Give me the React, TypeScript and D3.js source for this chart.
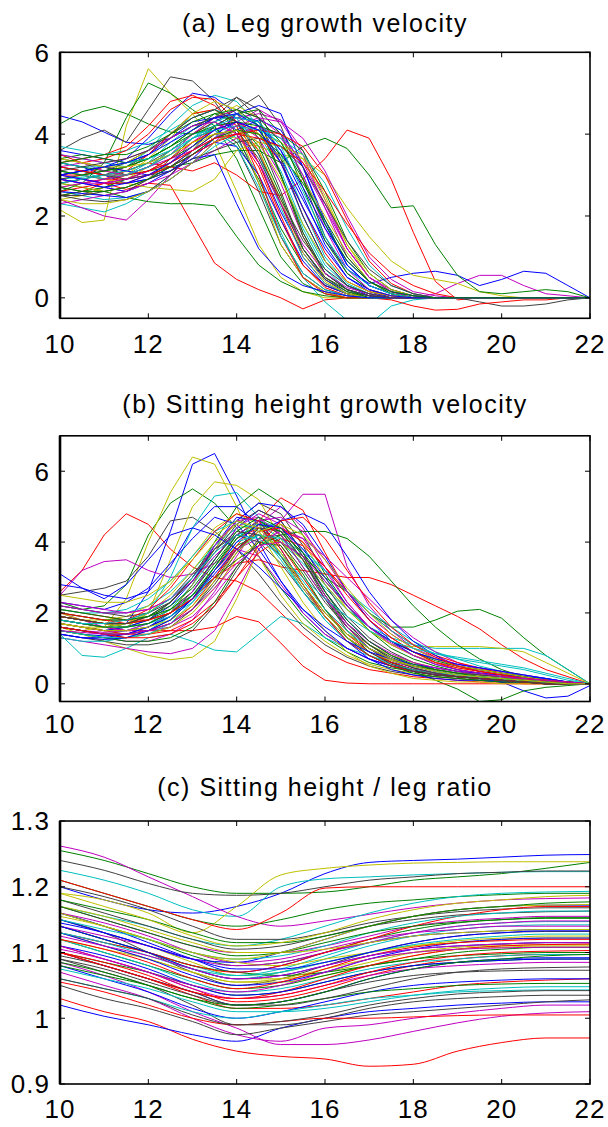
import React, { useEffect, useRef } from "react";
import * as d3 from "d3";

// Ages (years) at which each subject's curve is sampled
const agesHalf = [10, 10.5, 11, 11.5, 12, 12.5, 13, 13.5, 14, 14.5, 15, 15.5, 16, 16.5, 17, 17.5, 18, 18.5, 19, 19.5, 20, 20.5, 21, 21.5, 22];
const agesYear = [10, 11, 12, 13, 14, 15, 16, 17, 18, 19, 20, 21, 22];

const xTicks = [10, 12, 14, 16, 18, 20, 22];
const legTicks = [0, 2, 4, 6];
const sitTicks = [0, 2, 4, 6];
const ratioTicks = [0.9, 1, 1.1, 1.2, 1.3];

// MATLAB default line colour order (b, g, r, c, m, y, k)
const lineColors = ["#0000ff", "#008000", "#ff0000", "#00bfbf", "#bf00bf", "#bfbf00", "#404040"];

// (a) Leg growth velocity, one row per subject
const legVelocity = [
  [4.45, 4.3, 4.05, 3.8, 3.75, 3.9, 4.2, 4.4, 4.1, 3.3, 2.1, 1.1, 0.45, 0.15, 0.05, 0, 0, 0, 0, 0, 0, 0, 0, 0, 0],
  [4.25, 4.55, 4.68, 4.5, 4.25, 4.05, 4.0, 4.15, 3.8, 2.9, 1.7, 0.8, 0.3, 0.1, 0, 0, 0, 0, 0, 0, 0, 0, 0, 0, 0],
  [2.8, 2.9, 2.8, 2.65, 2.8, 2.75, 1.8, 0.85, 0.45, 0.2, 0.0, -0.27, -0.05, 0, 0, 0, 0, 0, 0, 0, 0, 0, 0, 0, 0],
  [3.2, 3.1, 2.9, 3.0, 3.3, 3.8, 4.2, 4.3, 3.9, 3.0, 1.6, 0.5, -0.1, -0.55, -0.65, -0.2, -0.05, 0, 0, 0, 0, 0, 0, 0, 0],
  [2.6, 2.5, 2.7, 2.6, 2.9, 3.3, 3.8, 4.2, 4.3, 3.9, 3.0, 1.6, 0.6, 0.2, 0.05, 0, 0, 0.1, 0.35, 0.55, 0.55, 0.3, 0.1, 0.05, 0],
  [2.15, 1.84, 1.9, 4.2, 5.6, 5.0, 4.5, 3.8, 2.6, 1.3, 0.5, 0.15, 0, 0, 0, 0, 0, 0, 0, 0, 0, 0, 0, 0, 0],
  [3.6, 3.9, 4.1, 3.8, 4.6, 5.4, 5.3, 4.8, 4.0, 2.8, 1.5, 0.6, 0.2, 0.05, 0, 0, 0, 0, 0, 0, 0, 0, 0, 0, 0],
  [3.3, 3.2, 3.0, 2.8, 2.9, 3.2, 3.6, 4.0, 4.3, 4.1, 3.4, 2.4, 1.4, 0.7, 0.35, 0.5, 0.6, 0.65, 0.55, 0.3, 0.45, 0.65, 0.6, 0.3, 0],
  [2.6, 2.8, 3.3, 4.4, 5.25, 5.0, 4.6, 4.2, 3.4, 2.2, 1.0, 0.35, 0.1, 0, 0, 0, 0, 0, 0, 0, 0, 0, 0, 0, 0],
  [3.1, 3.0, 3.2, 3.1, 3.3, 3.2, 3.1, 3.3, 3.0, 2.6, 2.5, 2.9, 3.4, 4.1, 3.9, 2.9, 1.6, 0.4, -0.05, 0, 0, 0, 0, 0, 0],
  [3.5, 3.4, 3.3, 3.2, 3.6, 4.2, 4.7, 4.95, 4.8, 4.2, 3.0, 1.7, 0.7, 0.2, 0.05, 0, 0, 0, 0, 0, 0, 0, 0, 0, 0],
  [2.8, 2.9, 2.8, 2.9, 3.0, 3.3, 3.7, 4.1, 4.4, 4.5, 4.35, 3.6, 2.4, 1.2, 0.5, 0.15, 0, 0, 0, 0, 0, 0, 0, 0, 0],
  [2.9, 3.0, 3.1, 3.0, 3.2, 3.5, 3.8, 4.0, 3.9, 3.7, 3.5, 3.4, 3.0, 2.2, 1.5, 0.9, 0.55, 0.45, 0.35, 0.15, 0.05, 0, 0, 0, 0],
  [2.7, 2.6, 2.5, 2.6, 2.9, 3.4, 3.9, 4.1, 3.7, 2.6, 1.3, 0.5, 0.15, 0, 0, 0, 0, 0, 0, -0.1, -0.2, -0.2, -0.15, -0.05, 0],
  [3.4, 3.3, 3.2, 3.4, 3.9, 4.5, 5.0, 4.9, 4.5, 4.3, 3.3, 2.0, 0.9, 0.3, 0.05, 0, 0, 0, 0, 0, 0, 0, 0, 0, 0],
  [3.0, 3.1, 3.2, 3.0, 3.1, 3.2, 3.3, 3.5, 3.6, 3.6, 3.3, 3.7, 3.9, 3.65, 3.0, 2.2, 2.25, 1.3, 0.55, 0.15, 0.1, 0.15, 0.2, 0.15, 0],
  [2.5, 2.6, 2.8, 3.0, 3.2, 3.6, 4.0, 4.3, 4.0, 3.2, 1.9, 0.8, 0.3, 0.1, 0, -0.05, -0.2, -0.3, -0.28, -0.15, -0.1, -0.05, -0.05, 0, 0],
  [2.3, 2.2, 2.1, 2.3, 2.6, 3.0, 3.5, 3.9, 4.2, 4.0, 3.1, 1.8, 0.8, 0.3, 0.1, 0, 0, 0, 0, 0, 0, 0, 0, 0, 0],
  [2.4, 2.2, 2.0, 1.9, 2.4, 3.0, 3.5, 3.9, 4.1, 3.8, 2.8, 1.5, 0.6, 0.2, 0.05, 0, 0, 0, 0, 0, 0, 0, 0, 0, 0],
  [2.7, 2.8, 2.9, 3.0, 3.4, 3.9, 4.5, 4.6, 4.2, 2.8, 1.3, 0.5, 0.15, 0, 0, 0, 0, 0, 0, 0, 0, 0, 0, 0, 0],
  [3.0, 3.1, 3.0, 3.2, 3.5, 4.0, 4.4, 4.6, 4.9, 4.6, 3.4, 2.0, 0.9, 0.3, 0.1, 0, 0, 0, 0, 0, 0, 0, 0, 0, 0],
  [2.9, 2.8, 2.7, 2.6, 2.8, 3.1, 3.5, 3.8, 3.7, 3.0, 1.9, 0.9, 0.3, 0.1, 0, 0, 0, 0, 0, 0, 0, 0, 0, 0, 0],
  [2.8, 2.7, 2.6, 2.45, 2.35, 2.3, 2.3, 2.25, 1.5, 0.8, 0.4, 0.15, 0.05, 0, 0, 0, 0, 0, 0, 0, 0, 0, 0, 0, 0],
  [3.3, 3.4, 3.5, 3.7, 4.2, 4.8, 4.95, 4.7, 4.2, 3.0, 1.5, 0.5, 0.1, 0, 0, 0, 0, 0, 0, 0, 0, 0, 0, 0, 0],
  [2.6, 2.5, 2.4, 2.45, 2.6, 2.9, 3.3, 3.7, 4.0, 4.1, 3.8, 3.0, 1.8, 0.8, 0.3, 0.1, 0, 0, 0, 0, 0, 0, 0, 0, 0],
  [3.0, 2.9, 2.8, 2.9, 3.0, 3.2, 3.5, 3.8, 4.3, 4.6, 4.3, 3.5, 2.2, 1.0, 0.4, 0.1, 0, 0, 0, 0, 0, 0, 0, 0, 0],
  [2.4, 2.5, 2.7, 2.9, 3.2, 3.6, 4.0, 4.4, 4.7, 4.4, 3.0, 1.5, 0.5, 0.15, 0, 0, 0, 0, 0, 0, 0, 0, 0, 0, 0],
  [3.2, 3.1, 3.0, 3.1, 3.3, 3.6, 4.0, 4.3, 4.6, 4.95, 4.2, 2.9, 1.5, 0.6, 0.2, 0, 0, 0, 0, 0, 0, 0, 0, 0, 0],
  [3.6, 3.5, 3.4, 3.3, 3.5, 3.9, 4.3, 4.4, 4.4, 4.3, 3.6, 2.5, 1.3, 0.5, 0.15, 0, 0, 0, 0, 0, 0, 0, 0, 0, 0],
  [2.5, 2.6, 2.7, 2.9, 3.1, 3.4, 3.7, 4.2, 4.5, 4.6, 4.0, 2.7, 1.4, 0.6, 0.2, 0.05, 0, 0, 0, 0, 0, 0, 0, 0, 0],
  [2.9, 2.8, 2.9, 3.1, 3.5, 4.0, 4.5, 4.6, 4.3, 3.6, 2.3, 1.0, 0.35, 0.1, 0, 0, 0, 0, 0, 0, 0, 0, 0, 0, 0],
  [3.7, 3.6, 3.5, 3.6, 3.8, 4.1, 4.4, 4.6, 4.4, 3.5, 2.2, 1.0, 0.35, 0.1, 0, 0, 0, 0, 0, 0, 0, 0, 0, 0, 0],
  [2.3, 2.4, 2.5, 2.6, 2.8, 3.0, 3.3, 3.6, 3.9, 4.2, 4.0, 3.0, 1.7, 0.7, 0.2, 0.05, 0, 0, 0, 0, 0, 0, 0, 0, 0],
  [3.1, 3.0, 2.9, 2.8, 2.7, 2.65, 2.6, 2.9, 3.6, 3.8, 3.7, 3.5, 2.5, 1.3, 0.5, 0.15, 0, 0, 0, 0, 0, 0, 0, 0, 0],
  [2.5, 2.4, 2.35, 2.4, 2.6, 3.0, 3.6, 4.2, 4.5, 3.9, 2.6, 1.2, 0.45, 0.1, 0, 0, 0, 0, 0, 0, 0, 0, 0, 0, 0],
  [3.0, 3.1, 3.2, 3.1, 3.0, 3.1, 3.4, 3.9, 4.5, 4.7, 4.5, 3.2, 1.8, 0.8, 0.3, 0.1, 0, 0, 0, 0, 0, 0, 0, 0, 0],
  [3.3, 3.2, 3.1, 3.2, 3.4, 3.7, 4.1, 4.5, 4.3, 3.7, 2.5, 1.2, 0.5, 0.15, 0, 0, 0, 0, 0, 0, 0, 0, 0, 0, 0],
  [3.5, 3.3, 3.4, 3.6, 4.0, 4.6, 4.9, 4.85, 4.3, 3.3, 2.0, 0.8, 0.25, 0.05, 0, 0, 0, 0, 0, 0, 0, 0, 0, 0, 0],
  [2.9, 2.95, 3.0, 3.1, 3.3, 3.5, 3.9, 4.3, 4.5, 4.3, 3.5, 2.2, 1.0, 0.35, 0.1, 0, 0, 0, 0, 0, 0, 0, 0, 0, 0],
  [3.2, 3.3, 3.1, 3.0, 3.2, 3.4, 3.6, 3.9, 4.0, 4.2, 3.9, 3.2, 2.2, 1.2, 0.5, 0.15, 0, 0, 0, 0, 0, 0, 0, 0, 0],
  [2.8, 2.7, 2.6, 2.7, 2.9, 3.3, 3.7, 4.0, 4.1, 3.6, 2.4, 1.1, 0.4, 0.1, 0, 0, 0, 0, 0, 0, 0, 0, 0, 0, 0],
  [2.9, 3.0, 3.1, 3.3, 3.6, 3.9, 4.2, 4.4, 4.9, 4.4, 3.0, 1.5, 0.6, 0.2, 0.05, 0, 0, 0, 0, 0, 0, 0, 0, 0, 0],
  [2.6, 2.55, 2.5, 2.45, 2.6, 2.9, 3.3, 3.8, 4.1, 4.35, 4.1, 3.2, 1.9, 0.8, 0.3, 0.1, 0, 0, 0, 0, 0, 0, 0, 0, 0],
  [3.4, 3.5, 3.4, 3.3, 3.4, 3.7, 4.1, 4.4, 4.6, 4.2, 3.0, 1.6, 0.6, 0.2, 0, 0, 0, 0, 0, 0, 0, 0, 0, 0, 0],
  [3.0, 3.0, 2.9, 2.9, 3.1, 3.4, 3.8, 4.1, 4.3, 4.0, 3.3, 2.2, 1.1, 0.4, 0.15, 0.05, 0, 0, 0, 0, 0, 0, 0, 0, 0],
  [3.1, 3.0, 2.9, 3.0, 3.2, 3.6, 4.0, 4.1, 3.7, 2.7, 1.5, 0.6, 0.2, 0.05, 0, 0, 0, 0, 0, 0, 0, 0, 0, 0, 0],
  [2.7, 2.8, 2.9, 3.0, 3.2, 3.5, 4.0, 4.4, 4.6, 4.4, 4.0, 3.3, 2.3, 1.2, 0.5, 0.2, 0.05, 0, 0, 0, 0, 0, 0, 0, 0],
  [3.4, 3.3, 3.2, 3.3, 3.6, 4.0, 4.5, 4.8, 4.6, 4.0, 3.4, 2.9, 2.0, 1.1, 0.4, 0.1, 0, 0, 0, 0, 0, 0, 0, 0, 0],
  [2.8, 2.9, 3.0, 2.9, 3.0, 3.2, 3.6, 4.0, 4.1, 3.4, 2.3, 1.2, 0.5, 0.2, 0.05, 0, 0, 0, 0, 0, 0, 0, 0, 0, 0],
  [3.0, 2.9, 2.8, 2.8, 2.9, 3.1, 3.4, 3.5, 2.3, 1.2, 0.6, 0.3, 0.15, 0.05, 0, 0, 0, 0, 0, 0, 0, 0, 0, 0, 0],
  [3.1, 3.0, 3.1, 3.2, 3.4, 3.7, 4.0, 4.2, 4.3, 4.2, 4.0, 3.6, 2.6, 1.4, 0.6, 0.2, 0.05, 0, 0, 0, 0, 0, 0, 0, 0],
  [2.6, 2.7, 2.8, 2.8, 3.0, 3.2, 3.5, 3.8, 4.0, 4.1, 4.0, 3.7, 3.0, 1.9, 0.9, 0.35, 0.1, 0, 0, 0, 0, 0, 0, 0, 0],
  [3.3, 3.2, 3.2, 3.3, 3.4, 3.6, 3.9, 4.1, 4.2, 4.1, 3.9, 3.5, 2.8, 1.7, 0.8, 0.3, 0.1, 0, 0, 0, 0, 0, 0, 0, 0],
  [2.9, 2.8, 2.8, 2.9, 3.1, 3.3, 3.6, 3.9, 4.2, 4.4, 4.3, 3.9, 3.1, 2.0, 1.0, 0.45, 0.15, 0.05, 0, 0, 0, 0, 0, 0, 0],
  [3.4, 3.3, 3.2, 3.2, 3.3, 3.5, 3.8, 4.0, 4.1, 4.0, 3.8, 3.4, 2.4, 1.3, 0.6, 0.2, 0.05, 0, 0, 0, 0, 0, 0, 0, 0],
  [2.5, 2.5, 2.6, 2.7, 2.9, 3.1, 3.4, 3.6, 3.8, 3.9, 3.7, 3.2, 2.3, 1.4, 0.7, 0.3, 0.1, 0, 0, 0, 0, 0, 0, 0, 0],
  [3.0, 3.1, 3.2, 3.3, 3.5, 3.8, 4.1, 4.4, 4.5, 4.2, 3.6, 2.7, 1.7, 0.9, 0.4, 0.15, 0.05, 0, 0, 0, 0, 0, 0, 0, 0],
  [2.7, 2.6, 2.6, 2.7, 2.9, 3.2, 3.5, 3.9, 4.1, 4.0, 3.5, 2.8, 1.9, 1.0, 0.4, 0.1, 0, 0, 0, 0, 0, 0, 0, 0, 0],
  [3.2, 3.1, 3.0, 3.0, 3.1, 3.3, 3.6, 3.9, 4.0, 3.9, 3.7, 3.3, 2.6, 1.8, 1.1, 0.6, 0.3, 0.1, 0, 0, 0, 0, 0, 0, 0],
  [2.8, 2.9, 3.0, 3.0, 3.2, 3.5, 3.9, 4.2, 4.4, 4.3, 3.7, 2.6, 1.5, 0.7, 0.3, 0.1, 0, 0, 0, 0, 0, 0, 0, 0, 0],
  [3.5, 3.4, 3.3, 3.4, 3.6, 3.9, 4.2, 4.3, 4.0, 3.3, 2.3, 1.3, 0.6, 0.25, 0.1, 0, 0, 0, 0, 0, 0, 0, 0, 0, 0],
  [2.4, 2.3, 2.3, 2.4, 2.6, 2.9, 3.3, 3.8, 4.1, 3.8, 2.9, 1.8, 0.9, 0.4, 0.15, 0.05, 0, 0, 0, 0, 0, 0, 0, 0, 0],
  [3.1, 3.2, 3.3, 3.4, 3.6, 4.0, 4.4, 4.6, 4.3, 3.5, 2.4, 1.4, 0.7, 0.3, 0.1, 0, 0, 0, 0, 0, 0, 0, 0, 0, 0],
  [2.9, 2.8, 2.7, 2.8, 3.0, 3.3, 3.7, 4.1, 4.3, 4.1, 3.3, 2.2, 1.2, 0.5, 0.2, 0.05, 0, 0, 0, 0, 0, 0, 0, 0, 0],
  [3.3, 3.4, 3.5, 3.5, 3.7, 4.0, 4.3, 4.5, 4.6, 4.4, 3.8, 2.9, 1.8, 0.9, 0.4, 0.15, 0.05, 0, 0, 0, 0, 0, 0, 0, 0],
];

// (b) Sitting height growth velocity
const sittingVelocity = [
  [1.8, 1.7, 1.6, 1.7, 2.6, 4.3, 6.2, 6.5, 5.3, 4.0, 2.9, 2.0, 1.4, 1.0, 0.7, 0.5, 0.35, 0.25, 0.2, 0.15, 0.1, 0.05, 0.05, 0, 0],
  [2.3, 2.1, 2.2, 2.8, 4.2, 5.1, 5.5, 5.1, 4.4, 3.6, 2.7, 1.9, 1.3, 0.9, 0.6, 0.45, 0.35, 0.25, 0.2, 0.15, 0.1, 0.05, 0.05, 0, 0],
  [2.6, 3.2, 4.2, 4.8, 4.5, 3.8, 3.3, 3.0, 2.9, 2.6, 2.0, 1.4, 0.9, 0.6, 0.4, 0.3, 0.2, 0.15, 0.1, 0.05, 0.05, 0, 0, 0, 0],
  [1.4, 0.8, 0.75, 1.0, 1.3, 1.4, 1.2, 0.95, 0.9, 1.4, 1.9, 1.7, 1.3, 1.0, 0.8, 0.6, 0.5, 0.4, 0.3, 0.3, 0.25, 0.2, 0.1, 0.05, 0],
  [2.0, 1.8, 1.6, 1.5, 1.6, 1.9, 2.5, 3.2, 3.8, 4.1, 4.6, 5.35, 5.35, 3.3, 2.2, 1.5, 1.0, 0.7, 0.5, 0.4, 0.3, 0.2, 0.1, 0.05, 0],
  [1.6, 1.5, 1.6, 2.4, 4.0, 5.4, 6.4, 6.2, 5.0, 3.6, 2.5, 1.7, 1.2, 0.8, 0.55, 0.4, 0.3, 0.2, 0.15, 0.1, 0.05, 0.05, 0, 0, 0],
  [2.5, 2.6, 2.7, 2.9, 3.6, 4.6, 4.7, 4.3, 3.8, 3.1, 2.3, 1.6, 1.1, 0.75, 0.5, 0.35, 0.25, 0.2, 0.15, 0.1, 0.05, 0.05, 0, 0, 0],
  [1.9, 1.8, 1.7, 1.6, 1.7, 2.0, 2.6, 3.5, 4.4, 4.9, 4.6, 3.7, 2.6, 1.8, 1.2, 0.8, 0.5, 0.35, 0.25, 0.15, 0.05, -0.2, -0.4, -0.35, -0.05],
  [1.7, 1.6, 1.5, 1.5, 1.6, 1.9, 2.4, 3.2, 3.9, 4.2, 4.0, 3.6, 3.0, 2.6, 2.0, 1.6, 1.6, 1.8, 2.05, 2.1, 1.85, 1.3, 0.8, 0.4, 0],
  [1.9, 1.8, 1.7, 1.7, 1.8, 2.0, 2.4, 3.0, 3.4, 3.5, 3.3, 3.2, 3.1, 3.0, 3.0, 2.8, 2.5, 2.2, 1.9, 1.55, 1.1, 0.7, 0.4, 0.2, 0],
  [1.6, 1.5, 1.4, 1.5, 1.7, 2.1, 2.8, 3.6, 4.2, 4.4, 4.0, 3.4, 2.7, 2.1, 1.6, 1.3, 1.1, 1.0, 1.0, 1.0, 1.0, 1.0, 0.8, 0.4, 0],
  [2.5, 3.2, 3.45, 3.5, 3.2, 3.0, 3.1, 3.4, 3.8, 3.6, 2.8, 2.0, 1.4, 1.0, 0.7, 0.5, 0.4, 0.3, 0.2, 0.15, 0.1, 0.05, 0, 0, 0],
  [1.6, 1.4, 1.2, 1.0, 0.8, 0.68, 0.75, 1.2, 2.4, 3.8, 4.5, 4.0, 3.0, 2.1, 1.5, 1.1, 1.05, 1.05, 1.05, 1.05, 1.0, 0.9, 0.6, 0.3, 0],
  [1.9, 1.8, 1.7, 1.6, 1.8, 2.3, 3.0, 3.9, 4.6, 5.1, 4.8, 3.9, 2.8, 1.9, 1.3, 0.9, 0.6, 0.4, 0.3, 0.2, 0.15, 0.1, 0.05, 0, 0],
  [2.8, 2.7, 2.5, 2.4, 2.6, 3.3, 4.4, 5.0, 5.0, 4.5, 3.6, 2.7, 1.9, 1.3, 0.9, 0.6, 0.4, 0.3, 0.2, 0.15, 0.1, 0.05, 0, 0, 0],
  [1.6, 1.5, 1.4, 1.4, 1.5, 1.8, 2.4, 3.3, 4.2, 4.6, 4.2, 3.3, 2.4, 1.6, 1.0, 0.6, 0.35, 0.1, -0.15, -0.5, -0.45, -0.2, -0.1, -0.05, 0],
  [1.8, 1.7, 1.6, 1.5, 1.5, 1.5, 1.5, 1.6, 1.9, 1.75, 1.15, 0.5, 0.1, 0.02, 0, 0, 0, 0, 0, 0, 0, 0, 0, 0, 0],
  [1.7, 1.6, 1.5, 1.6, 2.0, 3.0, 4.4, 5.3, 5.4, 4.7, 3.6, 2.6, 1.8, 1.2, 0.8, 0.5, 0.35, 0.25, 0.2, 0.15, 0.1, 0.05, 0, 0, 0],
  [1.5, 1.4, 1.3, 1.2, 1.2, 1.4, 1.8, 2.6, 3.6, 4.5, 5.0, 4.4, 3.3, 2.3, 1.6, 1.1, 0.8, 0.6, 0.5, 0.4, 0.3, 0.2, 0.1, 0.05, 0],
  [1.7, 1.6, 1.5, 1.6, 2.0, 3.5, 5.0, 5.7, 5.6, 5.2, 4.1, 3.0, 2.1, 1.5, 1.1, 0.8, 0.6, 0.45, 0.35, 0.25, 0.2, 0.1, 0.05, 0, 0],
  [2.0, 1.9, 1.8, 1.8, 2.0, 2.4, 3.1, 3.8, 4.2, 4.0, 3.4, 2.6, 1.9, 1.3, 0.9, 0.6, 0.4, 0.3, 0.2, 0.15, 0.1, 0.05, 0, 0, 0],
  [1.5, 1.4, 1.35, 1.4, 1.6, 2.0, 2.8, 3.9, 4.7, 4.6, 3.8, 2.8, 1.9, 1.2, 0.7, 0.4, 0.25, 0.15, 0.1, 0.1, 0.05, 0.05, 0, 0, 0],
  [1.8, 1.7, 1.6, 1.7, 1.9, 2.3, 3.0, 4.0, 5.0, 5.5, 5.1, 4.2, 3.1, 2.2, 1.5, 1.0, 0.7, 0.5, 0.35, 0.25, 0.2, 0.1, 0.05, 0, 0],
  [1.6, 1.5, 1.4, 1.4, 1.5, 1.7, 2.2, 3.0, 3.9, 4.6, 5.25, 4.9, 3.7, 2.6, 1.8, 1.3, 0.9, 0.6, 0.4, 0.3, 0.2, 0.15, 0.1, 0.05, 0],
  [2.2, 2.1, 2.0, 2.0, 2.2, 2.6, 3.2, 3.9, 4.4, 4.5, 4.1, 3.5, 2.8, 2.1, 1.6, 1.2, 0.9, 0.7, 0.55, 0.45, 0.35, 0.25, 0.15, 0.05, 0],
  [1.3, 1.2, 1.1, 1.0, 0.9, 0.85, 1.0, 1.5, 2.6, 3.8, 4.4, 4.1, 3.2, 2.3, 1.6, 1.2, 0.9, 0.7, 0.5, 0.4, 0.3, 0.2, 0.1, 0.05, 0],
  [1.9, 1.8, 1.8, 1.9, 2.2, 2.8, 3.6, 4.4, 4.8, 4.5, 3.7, 2.8, 2.0, 1.4, 1.0, 0.7, 0.5, 0.35, 0.25, 0.2, 0.1, 0.05, 0, 0, 0],
  [1.4, 1.3, 1.2, 1.1, 1.1, 1.2, 1.5, 2.2, 3.2, 4.1, 4.2, 3.5, 2.5, 1.6, 1.0, 0.6, 0.4, 0.25, 0.2, 0.15, 0.1, 0.05, 0, 0, 0],
  [1.7, 1.6, 1.5, 1.6, 1.8, 2.2, 2.9, 3.8, 4.6, 5.1, 5.0, 4.5, 3.6, 2.6, 1.8, 1.2, 0.8, 0.55, 0.4, 0.3, 0.2, 0.1, 0.05, 0, 0],
  [2.0, 1.9, 1.8, 1.8, 1.9, 2.1, 2.5, 3.0, 3.5, 3.9, 4.2, 4.3, 4.3, 4.1, 3.6, 2.9, 2.2, 1.6, 1.1, 0.7, 0.4, 0.2, 0.1, 0.05, 0],
  [2.1, 2.0, 1.9, 1.8, 1.8, 2.0, 2.4, 3.2, 4.1, 4.4, 3.9, 3.0, 2.1, 1.4, 0.9, 0.6, 0.4, 0.3, 0.2, 0.15, 0.1, 0.05, 0, 0, 0],
  [1.3, 1.2, 1.2, 1.3, 1.5, 1.9, 2.5, 3.3, 4.1, 4.6, 4.4, 3.8, 3.2, 2.6, 2.1, 1.6, 1.2, 0.9, 0.7, 0.5, 0.35, 0.2, 0.1, 0.05, 0],
  [1.8, 1.7, 1.6, 1.5, 1.5, 1.6, 1.9, 2.5, 3.3, 4.0, 4.3, 4.1, 3.6, 3.0, 2.4, 1.8, 1.3, 0.9, 0.6, 0.4, 0.3, 0.2, 0.1, 0.05, 0],
  [2.0, 1.8, 1.7, 1.6, 1.7, 2.0, 2.8, 3.8, 4.6, 4.3, 3.3, 2.3, 1.5, 0.9, 0.5, 0.3, 0.15, 0.1, 0.05, 0.05, 0, 0, 0, 0, 0],
  [1.6, 1.5, 1.4, 1.3, 1.4, 1.6, 2.1, 2.9, 3.8, 4.4, 4.0, 3.2, 2.3, 1.6, 1.1, 0.75, 0.5, 0.35, 0.25, 0.2, 0.15, 0.1, 0.05, 0, 0],
  [2.3, 2.2, 2.1, 2.3, 2.7, 3.4, 4.1, 4.7, 4.5, 3.8, 2.9, 2.1, 1.5, 1.0, 0.7, 0.5, 0.35, 0.25, 0.2, 0.15, 0.1, 0.05, 0, 0, 0],
  [1.9, 1.8, 1.7, 1.7, 1.8, 2.1, 2.6, 3.4, 4.2, 4.6, 4.3, 3.5, 2.5, 1.7, 1.1, 0.7, 0.45, 0.3, 0.2, 0.15, 0.1, 0.05, 0, 0, 0],
  [1.7, 1.6, 1.5, 1.4, 1.4, 1.5, 1.8, 2.3, 3.0, 3.7, 4.1, 3.9, 3.3, 2.6, 2.0, 1.5, 1.1, 0.8, 0.6, 0.45, 0.3, 0.2, 0.1, 0.05, 0],
  [2.1, 2.0, 2.0, 2.1, 2.4, 2.9, 3.6, 4.3, 4.6, 4.3, 3.5, 2.6, 1.8, 1.2, 0.8, 0.55, 0.4, 0.3, 0.25, 0.2, 0.15, 0.1, 0.05, 0, 0],
  [1.6, 1.5, 1.45, 1.5, 1.7, 2.0, 2.6, 3.5, 4.4, 4.8, 4.5, 3.6, 2.5, 1.6, 1.0, 0.65, 0.45, 0.3, 0.2, 0.15, 0.1, 0.05, 0, 0, 0],
  [1.5, 1.4, 1.3, 1.3, 1.4, 1.6, 2.0, 2.7, 3.5, 4.0, 4.0, 3.5, 2.8, 2.1, 1.5, 1.1, 0.8, 0.6, 0.45, 0.35, 0.25, 0.15, 0.1, 0.05, 0],
  [2.2, 2.1, 2.0, 1.9, 2.0, 2.3, 2.9, 3.7, 4.5, 4.9, 4.6, 3.7, 2.6, 1.7, 1.1, 0.7, 0.45, 0.3, 0.2, 0.15, 0.1, 0.05, 0, 0, 0],
  [1.4, 1.3, 1.3, 1.4, 1.6, 1.9, 2.4, 3.1, 3.8, 4.3, 4.6, 4.8, 4.5, 3.6, 2.6, 1.8, 1.2, 0.8, 0.5, 0.35, 0.25, 0.15, 0.1, 0.05, 0],
  [1.5, 1.4, 1.3, 1.2, 1.2, 1.3, 1.6, 2.3, 3.3, 4.0, 3.9, 3.1, 2.1, 1.3, 0.8, 0.5, 0.3, 0.2, 0.15, 0.1, 0.05, 0.05, 0, 0, 0],
  [1.9, 1.8, 1.7, 1.8, 2.1, 2.7, 3.5, 4.3, 4.8, 4.6, 3.8, 2.8, 1.9, 1.2, 0.8, 0.5, 0.35, 0.25, 0.2, 0.15, 0.1, 0.05, 0, 0, 0],
  [1.8, 1.7, 1.6, 1.6, 1.7, 1.9, 2.3, 3.0, 3.8, 4.2, 4.1, 3.7, 3.2, 2.6, 2.0, 1.5, 1.1, 0.85, 0.7, 0.6, 0.5, 0.4, 0.25, 0.1, 0],
  [2.2, 2.1, 2.0, 2.0, 2.1, 2.4, 2.9, 3.6, 4.2, 4.6, 4.7, 4.3, 3.5, 2.6, 1.9, 1.4, 1.0, 0.75, 0.55, 0.45, 0.35, 0.25, 0.15, 0.05, 0],
  [1.7, 1.6, 1.6, 1.7, 2.0, 2.5, 3.2, 4.0, 4.5, 4.3, 3.6, 2.7, 1.9, 1.3, 0.9, 0.65, 0.5, 0.4, 0.3, 0.25, 0.2, 0.15, 0.1, 0.05, 0],
  [1.6, 1.5, 1.4, 1.4, 1.5, 1.7, 2.1, 2.8, 3.7, 4.4, 4.3, 3.5, 2.4, 1.5, 0.9, 0.55, 0.35, 0.25, 0.2, 0.15, 0.1, 0.05, 0, 0, 0],
  [3.1, 2.7, 2.4, 2.8, 3.5, 4.2, 4.4, 4.2, 3.8, 3.3, 2.7, 2.1, 1.6, 1.2, 0.9, 0.7, 0.55, 0.45, 0.35, 0.3, 0.25, 0.2, 0.15, 0.05, 0],
  [1.8, 1.7, 1.6, 1.6, 1.7, 2.0, 2.5, 3.3, 4.1, 4.5, 4.3, 3.7, 2.9, 2.2, 1.6, 1.2, 0.9, 0.65, 0.5, 0.4, 0.3, 0.2, 0.1, 0.05, 0],
  [2.0, 1.9, 1.8, 1.7, 1.8, 2.0, 2.4, 3.0, 3.8, 4.3, 4.4, 4.0, 3.3, 2.5, 1.8, 1.3, 0.9, 0.6, 0.45, 0.35, 0.25, 0.15, 0.1, 0.05, 0],
  [1.5, 1.4, 1.3, 1.3, 1.4, 1.7, 2.3, 3.2, 4.0, 4.2, 3.7, 2.9, 2.1, 1.5, 1.0, 0.7, 0.5, 0.35, 0.25, 0.2, 0.15, 0.1, 0.05, 0, 0],
  [2.3, 2.2, 2.1, 2.0, 2.1, 2.4, 3.0, 3.9, 4.6, 4.7, 4.2, 3.3, 2.4, 1.7, 1.2, 0.85, 0.6, 0.45, 0.35, 0.25, 0.2, 0.1, 0.05, 0, 0],
  [1.7, 1.6, 1.5, 1.5, 1.6, 1.8, 2.2, 2.9, 3.7, 4.3, 4.5, 4.2, 3.5, 2.7, 2.0, 1.4, 1.0, 0.7, 0.5, 0.4, 0.3, 0.2, 0.1, 0.05, 0],
  [1.9, 1.8, 1.7, 1.7, 1.9, 2.3, 3.0, 3.8, 4.3, 4.2, 3.6, 2.8, 2.0, 1.4, 1.0, 0.7, 0.5, 0.4, 0.3, 0.25, 0.2, 0.15, 0.1, 0.05, 0],
  [1.4, 1.3, 1.25, 1.3, 1.5, 1.8, 2.4, 3.2, 4.0, 4.5, 4.4, 3.8, 3.0, 2.2, 1.6, 1.2, 0.9, 0.7, 0.55, 0.45, 0.35, 0.25, 0.15, 0.05, 0],
  [2.1, 2.0, 1.9, 1.8, 1.9, 2.2, 2.7, 3.5, 4.3, 4.7, 4.4, 3.6, 2.6, 1.8, 1.2, 0.8, 0.55, 0.4, 0.3, 0.2, 0.15, 0.1, 0.05, 0, 0],
  [1.6, 1.5, 1.4, 1.3, 1.3, 1.4, 1.7, 2.2, 3.0, 3.9, 4.6, 4.7, 4.1, 3.2, 2.3, 1.6, 1.1, 0.75, 0.5, 0.35, 0.25, 0.15, 0.1, 0.05, 0],
  [1.8, 1.7, 1.7, 1.8, 2.0, 2.4, 3.0, 3.7, 4.2, 4.1, 3.6, 3.0, 2.4, 1.9, 1.5, 1.2, 1.0, 0.85, 0.75, 0.65, 0.55, 0.45, 0.3, 0.15, 0],
  [1.5, 1.45, 1.4, 1.4, 1.5, 1.7, 2.1, 2.7, 3.4, 3.9, 4.0, 3.6, 2.9, 2.2, 1.6, 1.15, 0.8, 0.55, 0.4, 0.3, 0.2, 0.15, 0.1, 0.05, 0],
  [2.5, 2.4, 2.3, 2.3, 2.5, 2.9, 3.5, 4.2, 4.6, 4.4, 3.7, 2.8, 2.0, 1.4, 1.0, 0.7, 0.5, 0.35, 0.25, 0.2, 0.15, 0.1, 0.05, 0, 0],
];

// (c) Sitting height / leg ratio, yearly
const heightLegRatio = [
  [1.2, 1.18, 1.165, 1.16, 1.17, 1.19, 1.22, 1.237, 1.24, 1.242, 1.245, 1.248, 1.249],
  [1.255, 1.24, 1.22, 1.2, 1.19, 1.19, 1.192, 1.2, 1.21, 1.215, 1.22, 1.228, 1.237],
  [1.03, 1.01, 0.995, 0.968, 0.95, 0.942, 0.938, 0.927, 0.93, 0.95, 0.963, 0.97, 0.97],
  [1.225, 1.21, 1.19, 1.165, 1.155, 1.2, 1.212, 1.215, 1.218, 1.22, 1.222, 1.223, 1.223],
  [1.262, 1.245, 1.215, 1.185, 1.155, 1.14, 1.148, 1.158, 1.168, 1.175, 1.18, 1.182, 1.183],
  [1.19, 1.18, 1.16, 1.13, 1.17, 1.218, 1.228, 1.233, 1.236, 1.237, 1.238, 1.238, 1.238],
  [1.24, 1.225, 1.205, 1.19, 1.187, 1.19, 1.2, 1.21, 1.215, 1.22, 1.222, 1.224, 1.224],
  [1.02, 1.003, 0.99, 0.975, 0.965, 0.985, 1.0, 1.01, 1.015, 1.02, 1.023, 1.025, 1.025],
  [1.21, 1.19, 1.17, 1.15, 1.14, 1.15, 1.165, 1.175, 1.18, 1.185, 1.188, 1.19, 1.19],
  [1.21, 1.19, 1.17, 1.15, 1.135, 1.16, 1.198, 1.2, 1.2, 1.2, 1.2, 1.2, 1.2],
  [1.17, 1.155, 1.14, 1.12, 1.11, 1.12, 1.14, 1.16, 1.175, 1.185, 1.19, 1.192, 1.193],
  [1.07, 1.05, 1.03, 1.0, 0.975, 0.965, 0.985, 0.99, 1.0, 1.008, 1.015, 1.02, 1.02],
  [1.15, 1.13, 1.11, 1.085, 1.065, 1.07, 1.085, 1.1, 1.11, 1.115, 1.12, 1.122, 1.122],
  [1.15, 1.13, 1.1, 1.07, 1.05, 1.06, 1.08, 1.1, 1.115, 1.125, 1.13, 1.132, 1.132],
  [1.1, 1.08, 1.06, 1.04, 1.02, 1.025, 1.04, 1.06, 1.075, 1.085, 1.09, 1.092, 1.092],
  [1.16, 1.14, 1.12, 1.095, 1.08, 1.085, 1.1, 1.12, 1.135, 1.145, 1.15, 1.153, 1.153],
  [1.11, 1.09, 1.07, 1.045, 1.025, 1.03, 1.045, 1.065, 1.08, 1.09, 1.095, 1.097, 1.097],
  [1.14, 1.12, 1.1, 1.075, 1.06, 1.07, 1.09, 1.11, 1.125, 1.135, 1.14, 1.142, 1.142],
  [1.085, 1.065, 1.04, 1.01, 0.985, 0.96, 0.96, 0.967, 0.98, 0.993, 1.003, 1.008, 1.01],
  [1.13, 1.11, 1.09, 1.07, 1.055, 1.055, 1.065, 1.08, 1.095, 1.105, 1.11, 1.112, 1.112],
  [1.05, 1.03, 1.015, 0.995, 0.975, 0.985, 0.995, 1.005, 1.01, 1.015, 1.02, 1.025, 1.028],
  [1.16, 1.14, 1.115, 1.09, 1.07, 1.08, 1.1, 1.115, 1.125, 1.13, 1.133, 1.135, 1.135],
  [1.12, 1.1, 1.08, 1.06, 1.045, 1.05, 1.065, 1.08, 1.09, 1.095, 1.098, 1.1, 1.1],
  [1.1, 1.08, 1.06, 1.035, 1.015, 1.015, 1.02, 1.03, 1.04, 1.05, 1.055, 1.058, 1.06],
  [1.13, 1.115, 1.1, 1.08, 1.065, 1.075, 1.095, 1.115, 1.13, 1.14, 1.145, 1.147, 1.147],
  [1.16, 1.145, 1.125, 1.1, 1.085, 1.09, 1.105, 1.12, 1.13, 1.135, 1.14, 1.14, 1.14],
  [1.14, 1.12, 1.1, 1.075, 1.06, 1.06, 1.07, 1.085, 1.1, 1.108, 1.112, 1.115, 1.115],
  [1.09, 1.07, 1.05, 1.02, 0.99, 0.99, 1.0, 1.015, 1.025, 1.03, 1.033, 1.035, 1.035],
  [1.15, 1.13, 1.11, 1.09, 1.085, 1.1, 1.12, 1.14, 1.155, 1.165, 1.17, 1.172, 1.172],
  [1.14, 1.12, 1.1, 1.08, 1.07, 1.065, 1.07, 1.08, 1.09, 1.1, 1.105, 1.108, 1.108],
  [1.055, 1.04, 1.02, 1.0, 0.99, 0.995, 1.0, 1.0, 1.002, 1.004, 1.005, 1.005, 1.005],
  [1.12, 1.1, 1.08, 1.055, 1.04, 1.045, 1.06, 1.075, 1.085, 1.09, 1.095, 1.097, 1.097],
  [1.17, 1.15, 1.13, 1.11, 1.1, 1.1, 1.11, 1.125, 1.14, 1.148, 1.152, 1.155, 1.155],
  [1.16, 1.14, 1.12, 1.1, 1.085, 1.08, 1.09, 1.1, 1.11, 1.118, 1.122, 1.125, 1.125],
  [1.18, 1.16, 1.14, 1.12, 1.105, 1.11, 1.125, 1.14, 1.15, 1.157, 1.16, 1.162, 1.163],
  [1.08, 1.06, 1.04, 1.015, 1.0, 1.01, 1.025, 1.04, 1.05, 1.055, 1.058, 1.06, 1.06],
  [1.1, 1.085, 1.07, 1.05, 1.035, 1.04, 1.055, 1.07, 1.08, 1.085, 1.088, 1.09, 1.09],
  [1.1, 1.085, 1.065, 1.04, 1.03, 1.04, 1.06, 1.08, 1.095, 1.105, 1.11, 1.112, 1.113],
  [1.06, 1.045, 1.03, 1.01, 1.0, 1.01, 1.02, 1.03, 1.035, 1.04, 1.042, 1.043, 1.043],
  [1.14, 1.125, 1.11, 1.09, 1.08, 1.085, 1.1, 1.115, 1.13, 1.14, 1.145, 1.148, 1.148],
  [1.12, 1.105, 1.09, 1.07, 1.055, 1.06, 1.075, 1.09, 1.1, 1.105, 1.108, 1.11, 1.11],
  [1.2, 1.185, 1.165, 1.14, 1.12, 1.12, 1.13, 1.145, 1.155, 1.162, 1.166, 1.168, 1.168],
  [1.11, 1.095, 1.075, 1.05, 1.035, 1.04, 1.055, 1.07, 1.08, 1.085, 1.088, 1.09, 1.09],
  [1.085, 1.07, 1.05, 1.03, 1.015, 1.02, 1.03, 1.04, 1.045, 1.05, 1.052, 1.053, 1.053],
  [1.13, 1.115, 1.1, 1.08, 1.07, 1.08, 1.1, 1.12, 1.14, 1.155, 1.165, 1.17, 1.17],
  [1.15, 1.135, 1.12, 1.1, 1.09, 1.095, 1.11, 1.13, 1.145, 1.155, 1.16, 1.163, 1.163],
  [1.11, 1.09, 1.07, 1.045, 1.03, 1.035, 1.05, 1.065, 1.075, 1.08, 1.083, 1.085, 1.085],
  [1.17, 1.155, 1.135, 1.115, 1.1, 1.1, 1.105, 1.115, 1.125, 1.13, 1.133, 1.135, 1.135],
  [1.095, 1.08, 1.06, 1.04, 1.02, 1.025, 1.04, 1.055, 1.065, 1.07, 1.072, 1.073, 1.073],
  [1.13, 1.11, 1.09, 1.065, 1.05, 1.055, 1.07, 1.09, 1.105, 1.115, 1.12, 1.122, 1.122],
  [1.17, 1.15, 1.13, 1.11, 1.095, 1.1, 1.115, 1.13, 1.14, 1.146, 1.15, 1.152, 1.152],
  [1.12, 1.105, 1.085, 1.06, 1.045, 1.055, 1.075, 1.095, 1.108, 1.115, 1.118, 1.12, 1.12],
  [1.13, 1.115, 1.095, 1.075, 1.065, 1.07, 1.085, 1.1, 1.112, 1.12, 1.125, 1.128, 1.128],
  [1.105, 1.09, 1.07, 1.05, 1.04, 1.05, 1.07, 1.09, 1.1, 1.105, 1.107, 1.108, 1.108],
  [1.155, 1.14, 1.12, 1.1, 1.09, 1.1, 1.12, 1.14, 1.155, 1.165, 1.17, 1.172, 1.173],
  [1.09, 1.075, 1.055, 1.035, 1.02, 1.02, 1.03, 1.045, 1.06, 1.07, 1.075, 1.077, 1.078],
  [1.14, 1.12, 1.1, 1.075, 1.06, 1.065, 1.08, 1.095, 1.105, 1.11, 1.113, 1.115, 1.115],
  [1.18, 1.165, 1.15, 1.13, 1.115, 1.115, 1.125, 1.14, 1.155, 1.165, 1.17, 1.175, 1.177],
  [1.1, 1.08, 1.06, 1.04, 1.03, 1.035, 1.05, 1.07, 1.085, 1.095, 1.1, 1.102, 1.103],
  [1.075, 1.06, 1.045, 1.025, 1.01, 1.01, 1.015, 1.025, 1.035, 1.042, 1.046, 1.048, 1.048],
  [1.125, 1.11, 1.095, 1.075, 1.06, 1.065, 1.08, 1.095, 1.105, 1.11, 1.113, 1.115, 1.115],
  [1.19, 1.17, 1.15, 1.125, 1.11, 1.115, 1.13, 1.15, 1.165, 1.175, 1.18, 1.185, 1.187],
  [1.06, 1.045, 1.03, 1.005, 0.99, 0.995, 1.005, 1.02, 1.03, 1.037, 1.04, 1.042, 1.042],
  [1.145, 1.13, 1.11, 1.09, 1.075, 1.075, 1.085, 1.1, 1.115, 1.125, 1.13, 1.133, 1.133],
  [1.08, 1.065, 1.05, 1.03, 1.02, 1.025, 1.04, 1.06, 1.075, 1.085, 1.09, 1.095, 1.097],
];

const FONT = "'Liberation Sans', Arial, Helvetica, sans-serif";

const panels = [
  { title: "(a) Leg growth velocity", series: legVelocity, ages: agesHalf, yDomain: [-0.5, 6], yTicks: legTicks, top: 52.3, bottom: 318.3, titleY: 31.5, xLabelY: 353, smooth: false },
  { title: "(b) Sitting height growth velocity", series: sittingVelocity, ages: agesHalf, yDomain: [-0.5, 7], yTicks: sitTicks, top: 435.8, bottom: 701.5, titleY: 413, xLabelY: 733, smooth: false },
  { title: "(c) Sitting height / leg ratio", series: heightLegRatio, ages: agesYear, yDomain: [0.9, 1.3], yTicks: ratioTicks, top: 821, bottom: 1084, titleY: 796, xLabelY: 1118, smooth: true },
];

export default function App() {
  const svgRef = useRef<SVGSVGElement>(null);

  useEffect(() => {
    const svg = d3.select(svgRef.current);
    svg.selectAll("*").remove();

    const left = 60,
      right = 590,
      tickLen = 5;

    const x = d3.scaleLinear().domain([10, 22]).range([left, right]);

    panels.forEach((p, pi) => {
      const y = d3.scaleLinear().domain(p.yDomain).range([p.bottom, p.top]);
      const g = svg.append("g");

      // Clip lines to the axes box
      const clipId = "clip" + pi;
      svg
        .append("clipPath")
        .attr("id", clipId)
        .append("rect")
        .attr("x", left)
        .attr("y", p.top)
        .attr("width", right - left)
        .attr("height", p.bottom - p.top);

      const line = d3
        .line<number>()
        .x((d, i) => x(p.ages[i]))
        .y((d) => y(d))
        .curve(p.smooth ? d3.curveMonotoneX : d3.curveLinear);

      g.append("g")
        .attr("clip-path", "url(#" + clipId + ")")
        .selectAll("path")
        .data(p.series)
        .enter()
        .append("path")
        .attr("d", (d) => line(d))
        .attr("fill", "none")
        .attr("stroke", (d, i) => lineColors[i % lineColors.length])
        .attr("stroke-width", 1);

      // Axes box
      g.append("rect")
        .attr("x", left)
        .attr("y", p.top)
        .attr("width", right - left)
        .attr("height", p.bottom - p.top)
        .attr("fill", "none")
        .attr("stroke", "#000")
        .attr("stroke-width", 1.6);
      g.append("line")
        .attr("x1", left)
        .attr("x2", left)
        .attr("y1", p.top)
        .attr("y2", p.bottom)
        .attr("stroke", "#000")
        .attr("stroke-width", 2.6);

      // Inward ticks on all four sides
      xTicks.forEach((t) => {
        g.append("line").attr("x1", x(t)).attr("x2", x(t)).attr("y1", p.bottom).attr("y2", p.bottom - tickLen).attr("stroke", "#000");
        g.append("line").attr("x1", x(t)).attr("x2", x(t)).attr("y1", p.top).attr("y2", p.top + tickLen).attr("stroke", "#000");
        g.append("text")
          .attr("x", x(t))
          .attr("y", p.xLabelY)
          .attr("text-anchor", "middle")
          .attr("font-family", FONT)
          .attr("font-size", 26)
          .attr("letter-spacing", 1)
          .text(t);
      });
      p.yTicks.forEach((t) => {
        g.append("line").attr("x1", left).attr("x2", left + tickLen).attr("y1", y(t)).attr("y2", y(t)).attr("stroke", "#000");
        g.append("line").attr("x1", right).attr("x2", right - tickLen).attr("y1", y(t)).attr("y2", y(t)).attr("stroke", "#000");
        g.append("text")
          .attr("x", 50)
          .attr("y", y(t))
          .attr("dy", "0.36em")
          .attr("text-anchor", "end")
          .attr("font-family", FONT)
          .attr("font-size", 26)
          .attr("letter-spacing", 1)
          .text(String(t));
      });

      // Title
      g.append("text")
        .attr("x", (left + right) / 2)
        .attr("y", p.titleY)
        .attr("text-anchor", "middle")
        .attr("font-family", FONT)
        .attr("font-size", 25)
        .attr("letter-spacing", 1.5)
        .text(p.title);
    });
  }, []);

  return (
    <svg
      ref={svgRef}
      width={608}
      height={1127}
      style={{ position: "absolute", left: 0, top: 0, background: "#fff" }}
    />
  );
}
